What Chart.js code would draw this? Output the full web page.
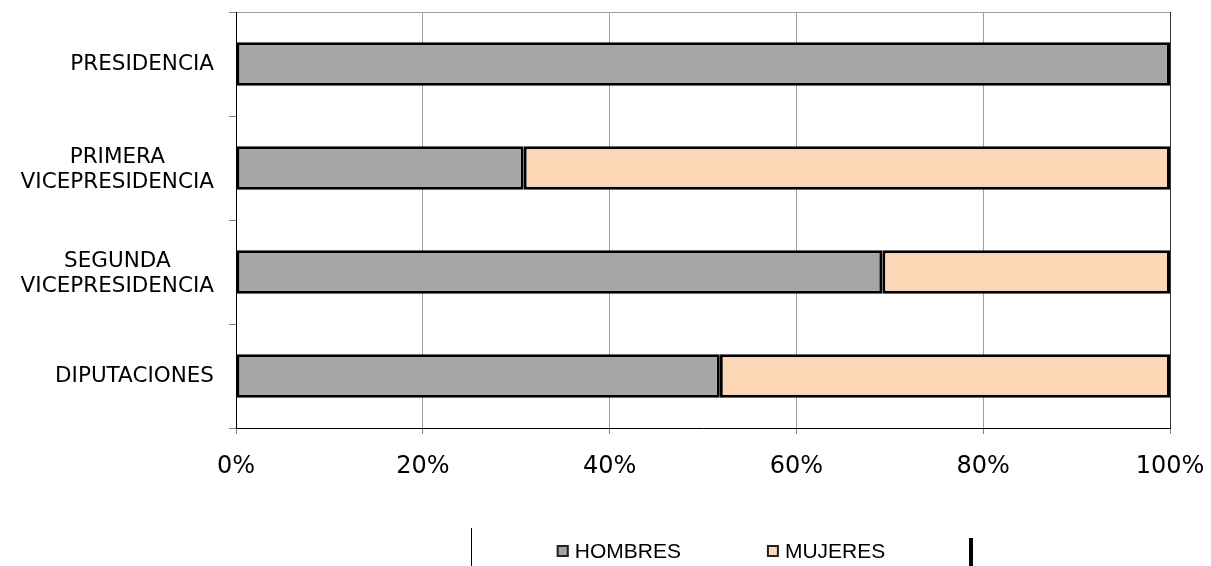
<!DOCTYPE html>
<html>
<head>
<meta charset="utf-8">
<script src="https://cdn.jsdelivr.net/npm/chart.js@4"></script>
<style>body{margin:0;background:#fff}</style>
</head>
<body>
<canvas id="chart" width="1211" height="566"></canvas>
<script>
const categories = [["PRESIDENCIA"], ["PRIMERA", "VICEPRESIDENCIA"], ["SEGUNDA", "VICEPRESIDENCIA"], ["DIPUTACIONES"]];
const hombres = [100, 30.8, 69.2, 51.8];
const mujeres = [0, 69.2, 30.8, 48.2];
const tickLabels = ["0%", "20%", "40%", "60%", "80%", "100%"];

// category labels: block right aligned, lines centred inside the block
const categoryLabels = {
    id: "categoryLabels",
    afterDraw(chart) {
        const ctx = chart.ctx;
        const y = chart.scales.y;
        ctx.save();
        ctx.font = '21.5px "DejaVu Sans"';
        ctx.fillStyle = "#000";
        ctx.textAlign = "center";
        ctx.textBaseline = "middle";
        categories.forEach((lines, i) => {
            const yc = y.getPixelForValue(i) + (lines.length - 1) * 2;
            const w = Math.max(...lines.map(l => ctx.measureText(l).width));
            const cx = chart.chartArea.left - 22 - w / 2;
            lines.forEach((l, j) => {
                ctx.fillText(l, cx, yc + (j - (lines.length - 1) / 2) * 25);
            });
        });
        ctx.restore();
    }
};

const bottomLegend = {
    id: "bottomLegend",
    afterDraw(chart) {
        const ctx = chart.ctx;
        const area = chart.chartArea;
        const center = (area.left + area.right) / 2 + 18;
        const yc = 551;
        ctx.save();
        ctx.font = '21px "Liberation Sans"';
        ctx.textBaseline = "middle";
        const sets = chart.data.datasets;
        const gap = 86;
        const widths = sets.map(d => 12 + 6 + ctx.measureText(d.label).width);
        let x = center - (widths.reduce((a, b) => a + b, 0) + gap) / 2;
        sets.forEach((d, i) => {
            ctx.fillStyle = d.backgroundColor;
            ctx.fillRect(x, yc - 6, 12, 12);
            ctx.strokeStyle = "#222";
            ctx.lineWidth = 2;
            ctx.strokeRect(x + 1, yc - 5, 10, 10);
            ctx.fillStyle = "#000";
            ctx.fillText(d.label, x + 18, yc + 1);
            x += widths[i] + gap;
        });
        // legend frame remnants
        ctx.fillStyle = "#000";
        ctx.fillRect(center - 250, 528, 1, 38);
        ctx.fillRect(center + 248, 538, 4, 28);
        ctx.restore();
    }
};

new Chart(document.getElementById("chart").getContext("2d"), {
    type: "bar",
    data: {
        labels: categories.map(c => c.join(" ")),
        datasets: [{
            label: "HOMBRES",
            data: hombres,
            backgroundColor: "#a6a6a6",
            borderColor: "#000",
            borderWidth: 3,
            borderSkipped: false,
            barPercentage: 0.42,
            categoryPercentage: 1
        }, {
            label: "MUJERES",
            data: mujeres,
            backgroundColor: "#fdd6b5",
            borderColor: "#000",
            borderWidth: 3,
            borderSkipped: false,
            barPercentage: 0.42,
            categoryPercentage: 1
        }]
    },
    options: {
        indexAxis: "y",
        responsive: false,
        animation: false,
        layout: { padding: { top: 12, right: 41, left: 0, bottom: 0 } },
        plugins: { legend: { display: false }, tooltip: { enabled: false } },
        scales: {
            x: {
                stacked: true,
                min: 0,
                max: 100,
                ticks: {
                    stepSize: 20,
                    callback: (v, i) => tickLabels[i],
                    font: { family: "DejaVu Sans", size: 24 },
                    color: "#000",
                    padding: 18
                },
                grid: {
                    color: c => (c.tick && c.tick.value === 100) ? "#333" : "#a0a0a0",
                    tickColor: "#808080",
                    tickLength: 6
                },
                border: { color: "#000" },
                afterFit: s => { s.height = 138; s.paddingLeft = 0; s.paddingRight = 0; }
            },
            y: {
                stacked: true,
                ticks: { display: false },
                grid: {
                    offset: true,
                    color: c => c.index === 0 ? "#a0a0a0" : "transparent",
                    tickColor: "#808080",
                    tickLength: 7
                },
                border: { color: "#000" },
                afterFit: s => { s.width = 236; }
            }
        }
    },
    plugins: [categoryLabels, bottomLegend]
});
</script>
</body>
</html>
